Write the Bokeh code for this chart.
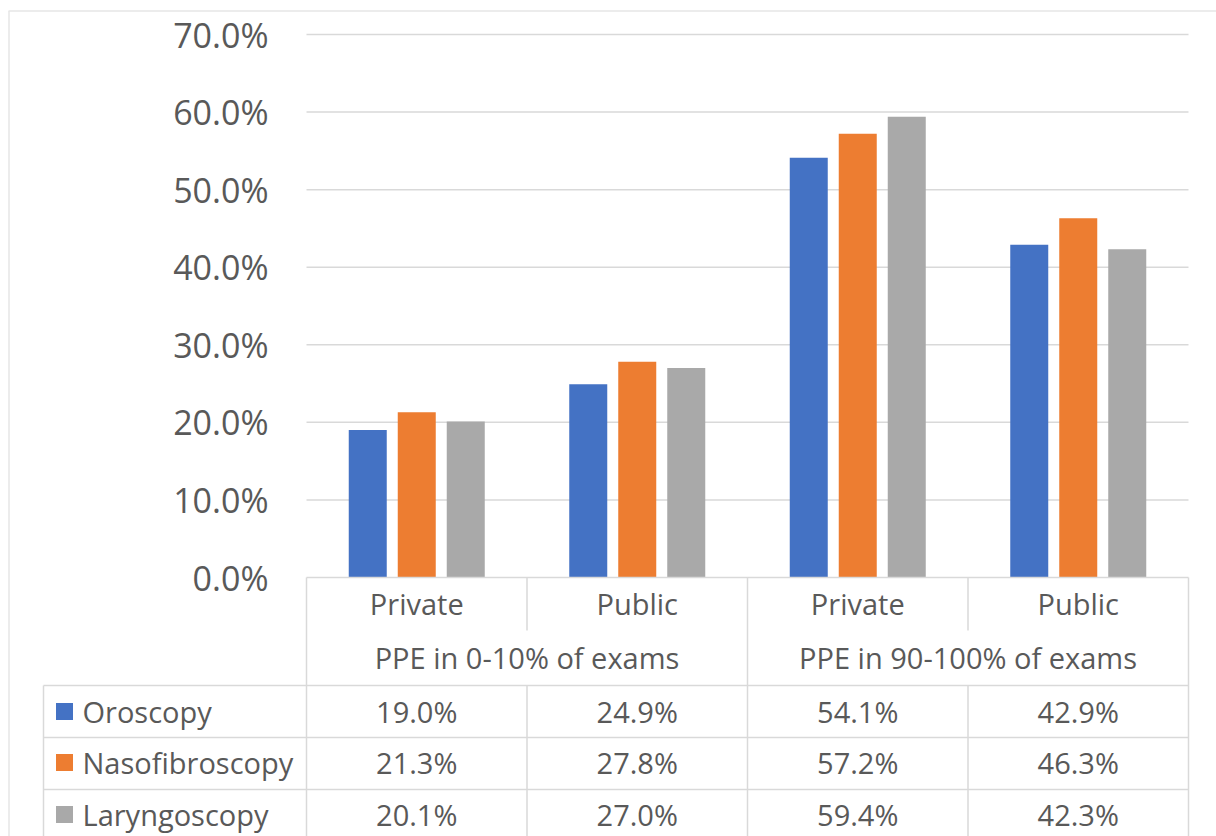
import numpy as np
from bokeh.plotting import figure
from bokeh.models import Range1d
from bokeh.core.properties import value
from bokeh.embed import file_html
from bokeh.resources import INLINE

# ---------------- data ----------------
groups = ["PPE in 0-10% of exams", "PPE in 90-100% of exams"]
sectors = ["Private", "Public", "Private", "Public"]
series = ["Oroscopy", "Nasofibroscopy", "Laryngoscopy"]
oroscopy = [19.0, 24.9, 54.1, 42.9]
nasofibroscopy = [21.3, 27.8, 57.2, 46.3]
laryngoscopy = [20.1, 27.0, 59.4, 42.3]
y_ticks = [0, 10, 20, 30, 40, 50, 60, 70]
y_tick_labels = ["0.0%", "10.0%", "20.0%", "30.0%", "40.0%", "50.0%", "60.0%", "70.0%"]

colors = ["#4472C4", "#ED7D31", "#A9A9A9"]
values_by_series = [oroscopy, nasofibroscopy, laryngoscopy]

TEXT = "#595959"
LINE = "#D9D9D9"
FONT = value("Open Sans")

# ---------------- layout helpers (pixel geometry of the page) ----------------
W, H = 1216, 836
PX0, PX_UNIT = 306.0, 220.5          # left of plot area, px per category
PY0, PY_UNIT = 577.0, 543.0 / 70.0   # zero line, px per percentage point


def X(px):
    return (px - PX0) / PX_UNIT


def Y(py):
    return (PY0 - py) / PY_UNIT


p = figure(width=W, height=H, output_backend="svg", toolbar_location=None,
           x_range=Range1d(X(0), X(W)), y_range=Range1d(Y(H), Y(0)),
           min_border=0, min_border_left=0, min_border_right=0,
           min_border_top=0, min_border_bottom=0)
p.axis.visible = False
p.grid.visible = False
p.outline_line_color = None
p.background_fill_color = "white"
p.border_fill_color = "white"

n = len(sectors)
centers = np.arange(n) + 0.5

# outer light frame
p.segment(x0=[X(8), X(8.5)], y0=[Y(10.5), Y(10.5)], x1=[X(1216), X(8.5)], y1=[Y(10.5), Y(840)],
          line_color="#E6E6E6", line_width=1.5)

# gridlines
gy = [t for t in y_ticks if t > 0]
p.segment(x0=[0] * len(gy), y0=gy, x1=[n] * len(gy), y1=gy, line_color=LINE, line_width=1.5)

# bars
offset = 49.0 / PX_UNIT
bar_w = 38.0 / PX_UNIT
for k, (vals, col) in enumerate(zip(values_by_series, colors)):
    p.vbar(x=centers + (k - 1) * offset, top=vals, bottom=0, width=bar_w,
           fill_color=col, line_color=None)

# y tick labels
p.text(x=[X(268)] * len(y_ticks), y=y_ticks, text=y_tick_labels,
       text_font=FONT, text_font_size="34px", text_color=TEXT,
       text_align="right", text_baseline="middle")

# ---------------- data table ----------------
bottom = Y(840)
# horizontal lines
p.segment(x0=[0, X(43), X(43), X(43)], y0=[0, Y(685), Y(737), Y(789)],
          x1=[n, n, n, n], y1=[0, Y(685), Y(737), Y(789)],
          line_color=LINE, line_width=1.5)
# vertical lines full height
p.segment(x0=[0, 2, 4], y0=[0, 0, 0], x1=[0, 2, 4], y1=[bottom] * 3,
          line_color=LINE, line_width=1.5)
# vertical lines between sectors (interrupted by group header row)
p.segment(x0=[1, 3, 1, 3, X(43)], y0=[0, 0, Y(685), Y(685), Y(685)],
          x1=[1, 3, 1, 3, X(43)], y1=[Y(630), Y(630), bottom, bottom, bottom],
          line_color=LINE, line_width=1.5)

# sector labels
p.text(x=centers, y=[Y(603)] * n, text=sectors, text_font=FONT, text_font_size="29px",
       text_color=TEXT, text_align="center", text_baseline="middle")
# group labels
p.text(x=[1, 3], y=[Y(657)] * 2, text=groups, text_font=FONT, text_font_size="29px",
       text_color=TEXT, text_align="center", text_baseline="middle")

row_y = [Y(711), Y(762), Y(814)]
for r, (name, vals, col) in enumerate(zip(series, values_by_series, colors)):
    p.scatter(x=[X(64)], y=[row_y[r]], marker="square", size=17,
              fill_color=col, line_color=None)
    p.text(x=[X(82)], y=[row_y[r]], text=[name], text_font=FONT, text_font_size="29px",
           text_color=TEXT, text_align="left", text_baseline="middle")
    p.text(x=centers, y=[row_y[r]] * n, text=[f"{v:.1f}%" for v in vals],
           text_font=FONT, text_font_size="29px", text_color=TEXT,
           text_align="center", text_baseline="middle")

open("out.html", "w").write(file_html(p, INLINE))
